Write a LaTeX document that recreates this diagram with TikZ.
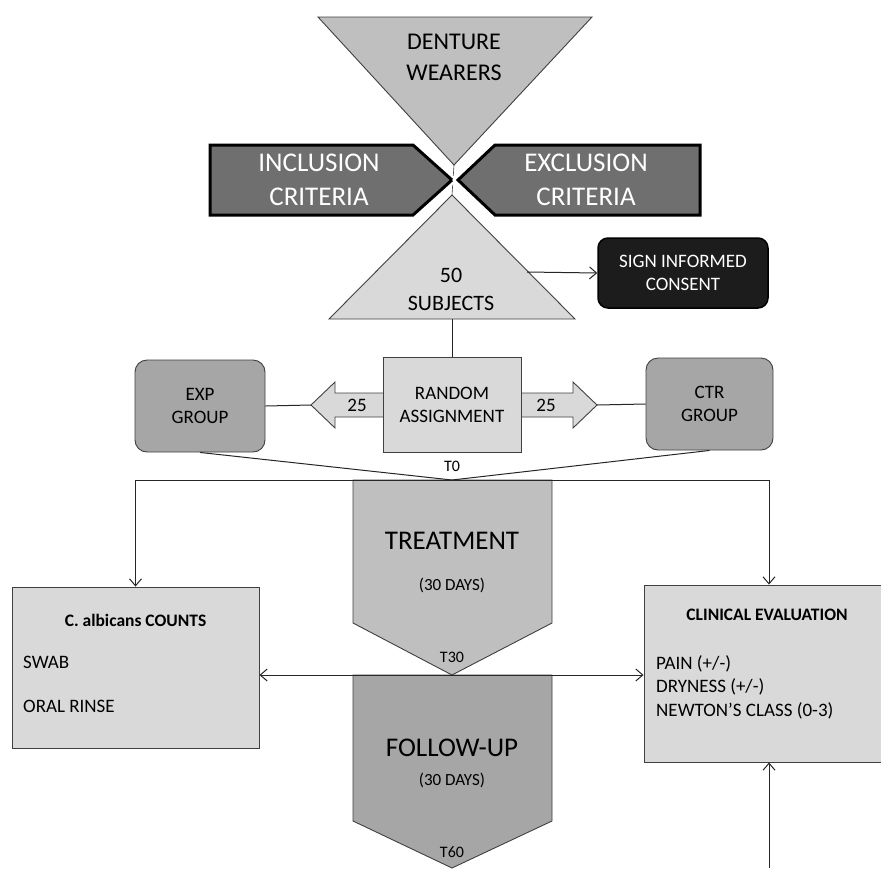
\documentclass[tikz,border=0pt]{standalone}
\usepackage{fontspec}
\setmainfont{Carlito}
\usetikzlibrary{arrows.meta}

\definecolor{boxlight}{HTML}{D9D9D9}
\definecolor{boxmid}{HTML}{BFBFBF}
\definecolor{boxdark}{HTML}{A6A6A6}
\definecolor{critgray}{HTML}{6F6F6F}
\definecolor{consentblack}{HTML}{1C1C1C}

\tikzset{
  shapeline/.style={draw=black!75, line width=0.9pt},
  crit/.style={fill=critgray, draw=black, line width=3pt, preaction={draw=white, line width=8pt}},
  conn/.style={draw=black!85, line width=1pt},
  arr/.style={conn, -{Straight Barb[length=7pt,width=12pt]}},
  txt/.style={align=center, inner sep=0pt, font=\fontsize{19}{23}\selectfont},
  txtbig/.style={txt, font=\fontsize{27}{32}\selectfont},
  txttime/.style={txt, font=\fontsize{16}{19}\selectfont},
  txtcrit/.style={txt, text=white, font=\fontsize{27}{34}\selectfont},
  grpbox/.style={shapeline, fill=boxdark, rounded corners=12pt, minimum width=130pt, minimum height=92pt, txt},
  evalbox/.style={shapeline, fill=boxlight, inner sep=0pt}
}

\begin{document}
\begin{tikzpicture}[x=1pt,y=-1pt]
  \useasboundingbox (0,0) rectangle (881,868);

  % funnel
  \filldraw[shapeline, fill=boxmid] (318,17) -- (592,17) -- (454,165) -- cycle;
  \filldraw[shapeline, fill=boxlight] (452,195) -- (575,319) -- (329,319) -- cycle;
  \draw[shapeline, line width=0.6pt] (454,165) -- (452,195);
  \filldraw[crit] (210,145) -- (413,145) -- (452,180) -- (413,215) -- (210,215) -- cycle;
  \filldraw[crit] (700,145) -- (495,145) -- (458,180) -- (495,215) -- (700,215) -- cycle;

  \node[txt, font=\fontsize{24}{31}\selectfont] (denture) at (454,57) {DENTURE\\WEARERS};
  \node[txtcrit] (incl) at (319,180) {INCLUSION\\CRITERIA};
  \node[txtcrit] (excl) at (586,180) {EXCLUSION\\CRITERIA};
  \node[txt, font=\fontsize{22}{28}\selectfont] (subjects) at (451,289) {50\\SUBJECTS};

  \coordinate (subj-e) at (527,272);
  \coordinate (subj-s) at (452,319);
  \node[fill=consentblack, draw=black, line width=1.5pt, rounded corners=10pt,
        minimum width=170pt, minimum height=70pt, txt, text=white] (consent) at (683,273) {SIGN INFORMED\\CONSENT};
  \draw[arr] (subj-e) -- (consent.west);

  % random assignment
  \filldraw[shapeline, fill=boxlight] (311,405) -- (335,382) -- (335,393) -- (573,393) -- (573,382)
    -- (597,405) -- (573,428) -- (573,417) -- (335,417) -- (335,428) -- cycle;
  \node[shapeline, fill=boxlight, minimum width=138pt, minimum height=95pt, txt] (random) at (452,404.5) {RANDOM\\ASSIGNMENT};
  \node[txt] (n-exp) at (357,405) {25};
  \node[txt] (n-ctr) at (546,405) {25};
  \coordinate (ltip) at (311,405);
  \coordinate (rtip) at (597,405);
  \draw[conn] (subj-s) -- (random.north);

  \node[grpbox] (exp) at (200,406) {EXP\\GROUP};
  \node[grpbox, minimum width=127pt] (ctr) at (709.5,404) {CTR\\GROUP};
  \draw[conn] (exp.east) -- (ltip);
  \draw[conn] (rtip) -- (ctr.west);

  % time line
  \filldraw[shapeline, fill=boxmid] (353,480) -- (552,480) -- (552,623) -- (452,675) -- (353,623) -- cycle;
  \filldraw[shapeline, fill=boxdark] (353,675) -- (552,675) -- (552,821) -- (452,868) -- (353,821) -- cycle;
  \coordinate (t0) at (452,480);
  \coordinate (t30) at (452,675);
  \coordinate (bot) at (769,868);

  \node[evalbox, minimum width=247pt, minimum height=161pt] (counts) at (135.5,667.5) {};
  \node[evalbox, minimum width=250pt, minimum height=177pt] (clin) at (769,673.5) {};

  \draw[conn] (exp.south) -- (t0) -- (ctr.south);
  \draw[arr] (t0) -| (counts.north);
  \draw[arr] (t0) -| (clin.north);
  \draw[arr] (t30) -- (counts.east |- t30);
  \draw[arr] (t30) -- (clin.west |- t30);
  \draw[arr] (bot) -- (clin.south);

  \node[txttime] (lbl-t0) at (452,466) {T0};
  \node[txtbig] (treat) at (452,541) {TREATMENT};
  \node[txt, font=\fontsize{17}{20}\selectfont] (treat-d) at (452,585) {(30 DAYS)};
  \node[txttime] (lbl-t30) at (452,657) {T30};
  \node[txtbig] (follow) at (452,748) {FOLLOW-UP};
  \node[txt, font=\fontsize{17}{20}\selectfont] (follow-d) at (452,780) {(30 DAYS)};
  \node[txttime] (lbl-t60) at (452,852) {T60};

  \node[txt, font=\bfseries\fontsize{17.5}{21}\selectfont] (counts-t) at (135.5,620) {C. albicans COUNTS};
  \node[txt, anchor=west] (swab) at (23,662) {SWAB};
  \node[txt, anchor=west] (rinse) at (23,706) {ORAL RINSE};
  \node[txt, font=\bfseries\fontsize{17.5}{21}\selectfont] (clin-t) at (767,615) {CLINICAL EVALUATION};
  \node[txt, anchor=west, align=left, font=\fontsize{19}{23.5}\selectfont] (clin-l) at (656,687) {PAIN (+/-)\\DRYNESS (+/-)\\NEWTON’S CLASS (0-3)};
\end{tikzpicture}
\end{document}
